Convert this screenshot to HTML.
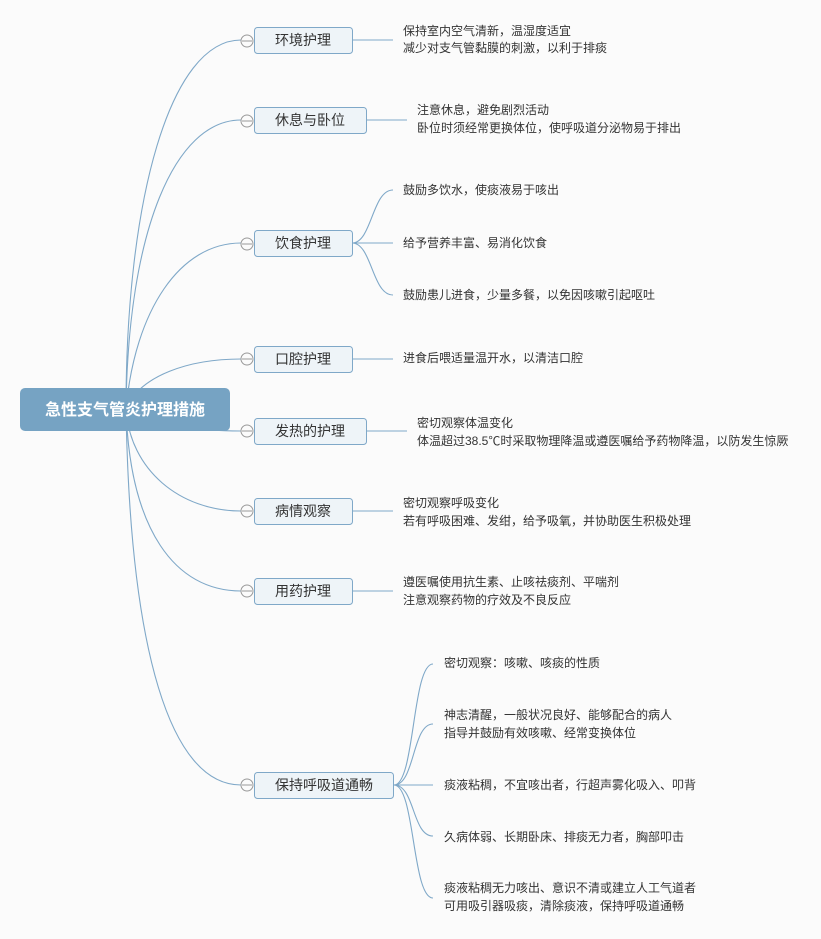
<!DOCTYPE html>
<html><head><meta charset="utf-8"><style>
html,body{margin:0;padding:0;background:#fbfbfb;width:821px;height:939px;overflow:hidden}
svg{display:block}
text{font-family:"Liberation Sans","Noto Sans CJK SC",sans-serif}
.l{font-size:12px;fill:#333}
.n{font-size:14px;fill:#333}
</style></head><body>
<svg width="821" height="939" viewBox="0 0 821 939" xmlns="http://www.w3.org/2000/svg">
<g fill="none" stroke="#7fa8c8" stroke-width="1.1">
<!-- root to nodes -->
<path d="M126 409 C126 200 170 40 241 40"/>
<path d="M126 409 C128 230 175 120 241 120"/>
<path d="M126 409 C135 310 180 243 241 243"/>
<path d="M126 409 C140 375 190 359 241 359"/>
<path d="M126 409 C160 425 200 431 241 431"/>
<path d="M126 409 C130 470 180 511 241 511"/>
<path d="M126 409 C130 530 175 591 241 591"/>
<path d="M126 409 C130 650 170 785 241 785"/>
<!-- node to leaves -->
<path d="M352 40 H393"/>
<path d="M366 120 H407"/>
<path d="M352 243 H393"/>
<path d="M352 243 C372 243 372 190 393 190"/>
<path d="M352 243 C372 243 372 295 393 295"/>
<path d="M352 359 H393"/>
<path d="M366 431 H407"/>
<path d="M352 511 H393"/>
<path d="M352 591 H393"/>
<path d="M394 785 H433"/>
<path d="M394 785 C415 785 412 664 433 664"/>
<path d="M394 785 C415 785 412 724 433 724"/>
<path d="M394 785 C415 785 412 836 433 836"/>
<path d="M394 785 C415 785 412 898 433 898"/>
</g>
<!-- root -->
<rect x="20" y="388" width="210" height="43" rx="5" fill="#76a3c3"/>
<text x="125" y="415" text-anchor="middle" font-size="16" fill="#fff" font-weight="bold">急性支气管炎护理措施</text>
<!-- nodes -->
<g fill="#eef4f8" stroke="#7fa8c8" stroke-width="1">
<rect x="254.5" y="27.5" width="98" height="26" rx="3"/>
<rect x="254.5" y="107.5" width="112" height="26" rx="3"/>
<rect x="254.5" y="230.5" width="98" height="26" rx="3"/>
<rect x="254.5" y="346.5" width="98" height="26" rx="3"/>
<rect x="254.5" y="418.5" width="112" height="26" rx="3"/>
<rect x="254.5" y="498.5" width="98" height="26" rx="3"/>
<rect x="254.5" y="578.5" width="98" height="26" rx="3"/>
<rect x="254.5" y="772.5" width="139" height="26" rx="3"/>
</g>
<g fill="#fbfbfb" stroke="#999" stroke-width="1">
<circle cx="247" cy="41" r="6"/><circle cx="247" cy="121" r="6"/><circle cx="247" cy="244" r="6"/>
<circle cx="247" cy="359" r="6"/><circle cx="247" cy="431" r="6"/><circle cx="247" cy="511" r="6"/>
<circle cx="247" cy="591" r="6"/><circle cx="247" cy="785" r="6"/>
</g>
<g stroke="#999" stroke-width="1">
<path d="M242 41h10M242 121h10M242 244h10M242 359h10M242 431h10M242 511h10M242 591h10M242 785h10"/>
</g>
<g class="n" text-anchor="middle">
<text class="n" x="303" y="45">环境护理</text>
<text class="n" x="310" y="125">休息与卧位</text>
<text class="n" x="303" y="248">饮食护理</text>
<text class="n" x="303" y="364">口腔护理</text>
<text class="n" x="310" y="436">发热的护理</text>
<text class="n" x="303" y="516">病情观察</text>
<text class="n" x="303" y="596">用药护理</text>
<text class="n" x="324" y="790">保持呼吸道通畅</text>
</g>
<g>
<text class="l" x="403" y="35">保持室内空气清新，温湿度适宜</text>
<text class="l" x="403" y="52">减少对支气管黏膜的刺激，以利于排痰</text>
<text class="l" x="417" y="114">注意休息，避免剧烈活动</text>
<text class="l" x="417" y="132">卧位时须经常更换体位，使呼吸道分泌物易于排出</text>
<text class="l" x="403" y="194">鼓励多饮水，使痰液易于咳出</text>
<text class="l" x="403" y="247">给予营养丰富、易消化饮食</text>
<text class="l" x="403" y="299">鼓励患儿进食，少量多餐，以免因咳嗽引起呕吐</text>
<text class="l" x="403" y="362">进食后喂适量温开水，以清洁口腔</text>
<text class="l" x="417" y="427">密切观察体温变化</text>
<text class="l" x="417" y="445">体温超过38.5℃时采取物理降温或遵医嘱给予药物降温，以防发生惊厥</text>
<text class="l" x="403" y="507">密切观察呼吸变化</text>
<text class="l" x="403" y="525">若有呼吸困难、发绀，给予吸氧，并协助医生积极处理</text>
<text class="l" x="403" y="586">遵医嘱使用抗生素、止咳祛痰剂、平喘剂</text>
<text class="l" x="403" y="604">注意观察药物的疗效及不良反应</text>
<text class="l" x="444" y="667">密切观察：咳嗽、咳痰的性质</text>
<text class="l" x="444" y="719">神志清醒，一般状况良好、能够配合的病人</text>
<text class="l" x="444" y="737">指导并鼓励有效咳嗽、经常变换体位</text>
<text class="l" x="444" y="789">痰液粘稠，不宜咳出者，行超声雾化吸入、叩背</text>
<text class="l" x="444" y="841">久病体弱、长期卧床、排痰无力者，胸部叩击</text>
<text class="l" x="444" y="892">痰液粘稠无力咳出、意识不清或建立人工气道者</text>
<text class="l" x="444" y="910">可用吸引器吸痰，清除痰液，保持呼吸道通畅</text>
</g>
</svg>
</body></html>
